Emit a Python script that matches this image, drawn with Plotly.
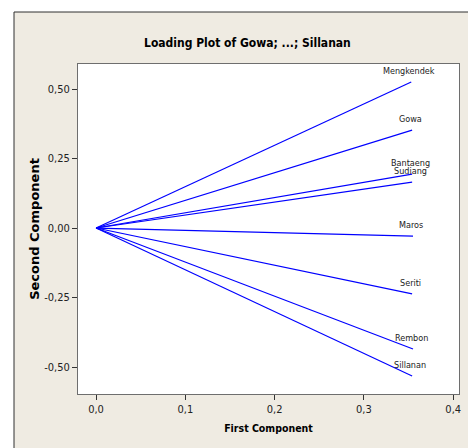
import plotly.graph_objects as go

names = ["Mengkendek", "Gowa", "Bantaeng", "Sudiang", "Maros", "Seriti", "Rembon", "Sillanan"]
pc1 = [0.353, 0.354, 0.354, 0.354, 0.355, 0.354, 0.355, 0.354]
pc2 = [0.525, 0.352, 0.194, 0.165, -0.029, -0.237, -0.435, -0.532]

xticks = [0.0, 0.1, 0.2, 0.3, 0.4]
xtick_labels = ["0,0", "0,1", "0,2", "0,3", "0,4"]
yticks = [0.50, 0.25, 0.00, -0.25, -0.50]
ytick_labels = ["0,50", "0,25", "0,00", "-0,25", "-0,50"]

FONT = "DejaVu Sans Condensed, Liberation Sans Narrow, Roboto, sans-serif"

W, H = 468, 448
L, T = 78, 64
R = W - 459
B = H - 394
pw, ph = W - L - R, H - T - B


def px(p):
    return (p - L) / pw


def py(p):
    return (H - B - p) / ph


fig = go.Figure()
for n, x, y in zip(names, pc1, pc2):
    fig.add_trace(go.Scatter(
        x=[0, x], y=[0, y], mode="lines",
        line=dict(color="#0000ff", width=1.2), showlegend=False, hoverinfo="skip",
        cliponaxis=False))

annotations = [dict(text="<b>Loading Plot of Gowa; ...; Sillanan</b>", xref="paper", yref="paper",
                    x=px(247), y=py(43), xanchor="center", yanchor="middle", showarrow=False,
                    font=dict(family=FONT, size=12, color="black"))]
for n, x, y in zip(names, pc1, pc2):
    annotations.append(dict(text=n, x=x, y=y, xref="x", yref="y", showarrow=False,
                            xanchor="center", yanchor="middle", xshift=-2, yshift=11,
                            font=dict(family=FONT, size=9, color="#222")))

shapes = [
    dict(type="rect", xref="paper", yref="paper", x0=px(-20), x1=px(14), y0=py(500), y1=py(-20),
         fillcolor="white", line=dict(width=0), layer="above"),
    dict(type="rect", xref="paper", yref="paper", x0=px(-20), x1=px(520), y0=py(12), y1=py(-20),
         fillcolor="white", line=dict(width=0), layer="above"),
    dict(type="line", xref="paper", yref="paper", x0=px(14), x1=px(14), y0=py(12), y1=py(470),
         line=dict(color="#303030", width=1)),
    dict(type="line", xref="paper", yref="paper", x0=px(14), x1=px(490), y0=py(12), y1=py(12),
         line=dict(color="#303030", width=1)),
]

fig.update_layout(
    width=W, height=H,
    margin=dict(l=L, r=R, t=T, b=B, autoexpand=False),
    paper_bgcolor="#efebe2", plot_bgcolor="white",
    shapes=shapes,
    annotations=annotations,
    xaxis=dict(range=[-0.0202, 0.4065], tickvals=xticks, ticktext=xtick_labels,
               showgrid=False, zeroline=False, showline=True, linecolor="#6e6e6e", linewidth=1,
               mirror=True, ticks="outside", ticklen=5, tickcolor="#333",
               tickfont=dict(family=FONT, size=11, color="#222"),
               title=dict(text="<b>First Component</b>", font=dict(family=FONT, size=10.5, color="black"),
                          standoff=9)),
    yaxis=dict(range=[-0.597, 0.590], tickvals=yticks, ticktext=ytick_labels,
               showgrid=False, zeroline=False, showline=True, linecolor="#6e6e6e", linewidth=1,
               mirror=True, ticks="outside", ticklen=5, tickcolor="#333",
               tickfont=dict(family=FONT, size=11, color="#222"),
               title=dict(text="<b>Second Component</b>", font=dict(family="DejaVu Sans", size=13, color="black"),
                          standoff=1)),
)

fig.write_html(
    "out.html",
    config={"displayModeBar": False, "staticPlot": True},
    post_script=("document.documentElement.style.background='#efebe2';"
                 "document.body.style.margin='0';"
                 "document.body.style.background='#efebe2';"),
)
